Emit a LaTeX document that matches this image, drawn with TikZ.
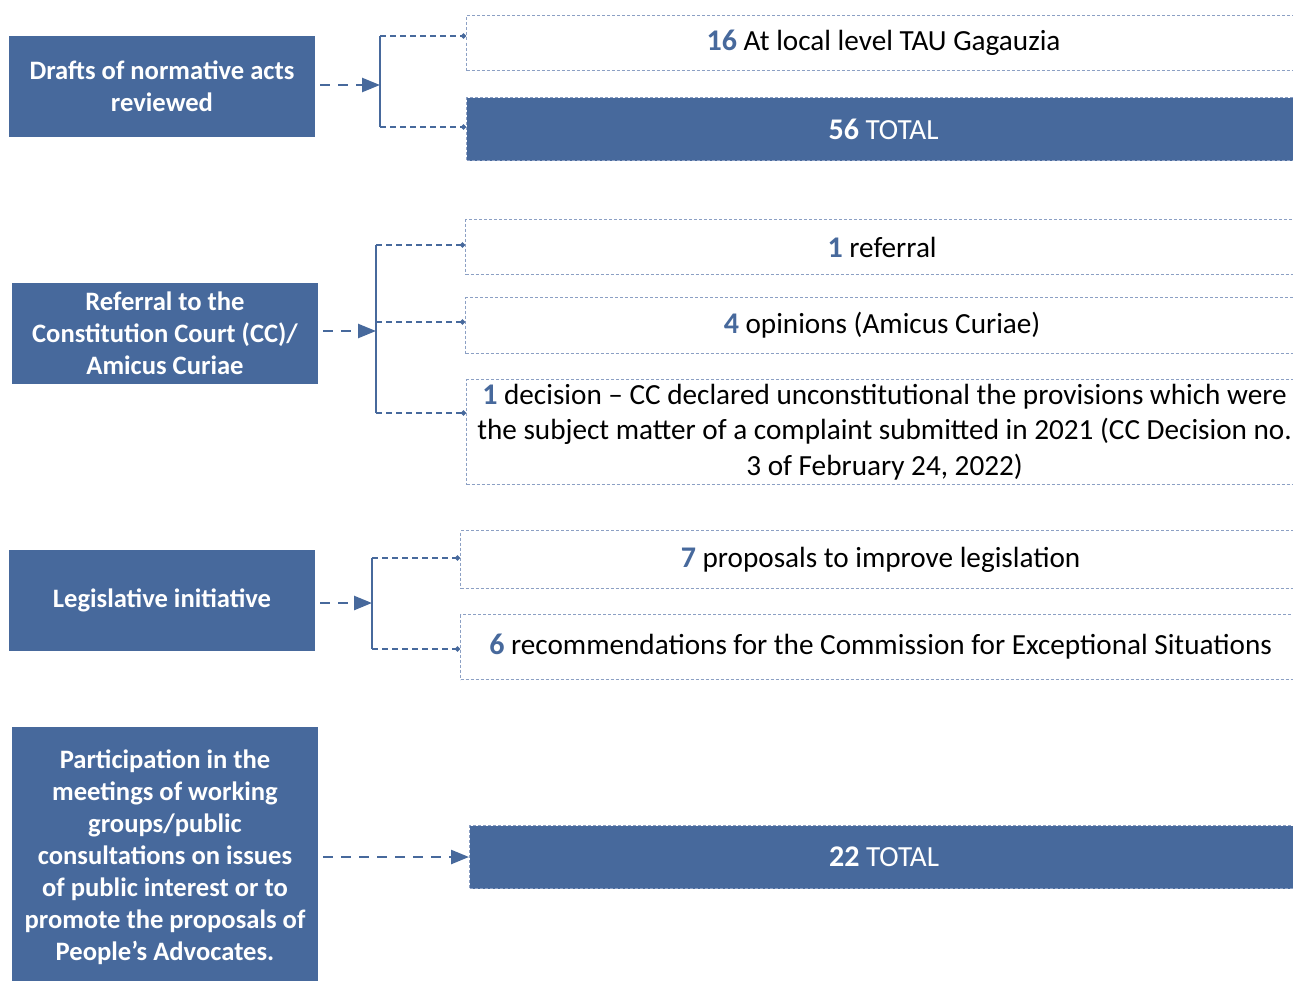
\documentclass[tikz,border=0pt]{standalone}
\usepackage{fontspec}
\setmainfont{Carlito}
\usetikzlibrary{arrows.meta}
\definecolor{boxblue}{RGB}{71,105,156}
\definecolor{dotblue}{RGB}{140,160,196}
\newcommand{\cnt}[1]{{\bfseries\color{boxblue}\fontsize{30}{35.5}\selectfont #1}}
\newcommand{\tot}[1]{{\bfseries\fontsize{30}{35.5}\selectfont #1}}

\begin{document}
\begin{tikzpicture}[
      x=1pt, y=-1pt,
      topic/.style={fill=boxblue, text=white, align=center, inner sep=0pt,
          minimum width=306pt, minimum height=101pt,
          font=\fontsize{26.6}{32}\selectfont\bfseries},
      item/.style={draw=dotblue, line width=1.2pt, dash pattern=on 3pt off 2pt,
          anchor=west, align=center, inner sep=0pt, minimum width=834pt,
          font=\fontsize{29.2}{35.5}\selectfont},
      total/.style={item, fill=boxblue, text=white},
      feed/.style={boxblue, line width=2.5pt, dash pattern=on 10pt off 8pt,
          shorten <=5pt, -{Triangle[length=18pt,width=14pt]}},
      branch/.style={boxblue, line width=1.3pt, dash pattern=on 6pt off 4pt,
          -{Circle[length=5pt]}},
      bracket/.style={boxblue, line width=1.5pt}
    ]

    \clip (0,0) rectangle (1293,980);

    \node[topic] (drafts) at (162,86) {Drafts of normative acts\\reviewed};
    \node[topic] (referral) at (165,333) {Referral to the\\Constitution Court (CC)/\\Amicus Curiae};
    \node[topic] (initiative) at (162,600) {Legislative initiative};
    \node[topic, minimum height=260pt] (meetings) at (165,857) {Participation in the\\meetings of working\\groups/public\\consultations on issues\\of public interest or to\\promote the proposals of\\People’s Advocates.};

    \node[item, minimum height=55pt] (local) at (466,43) {\cnt{16} At local level TAU Gagauzia};
    \node[total, minimum height=63pt] (total1) at (466,129) {\tot{56} TOTAL};

    \node[item, minimum height=55pt, minimum width=833pt] (ref) at (465,247) {\cnt{1} referral};
    \node[item, minimum height=56pt, minimum width=833pt] (opinions) at (465,325.5) {\cnt{4} opinions (Amicus Curiae)};
    \node[item, minimum height=105pt, minimum width=836pt] (decision) at (466,432) {\cnt{1} decision -- CC declared unconstitutional the provisions which were\\the subject matter of a complaint submitted in 2021 (CC Decision no.\\3 of February 24, 2022)};

    \node[item, minimum height=58pt, minimum width=840pt] (proposals) at (460,559.5) {\cnt{7} proposals to improve legislation};
    \node[item, minimum height=65pt, minimum width=840pt] (recomm) at (460,647) {\cnt{6} recommendations for the Commission for Exceptional Situations};

    \node[total, minimum height=63pt, minimum width=829pt] (total2) at (469,857) {\tot{22} TOTAL};

    \coordinate (k1) at (380,85);
    \coordinate (k1t) at (380,36);
    \coordinate (k1b) at (380,127);
    \draw[feed] (drafts.east |- k1) -- (k1);
    \draw[bracket] (k1t) -- (k1b);
    \draw[branch] (k1t) -- (local.west |- k1t);
    \draw[branch] (k1b) -- (total1.west |- k1b);

    \coordinate (k2) at (376,331);
    \coordinate (k2t) at (376,245);
    \coordinate (k2m) at (376,322);
    \coordinate (k2b) at (376,413);
    \draw[feed] (referral.east |- k2) -- (k2);
    \draw[bracket] (k2t) -- (k2b);
    \draw[branch] (k2t) -- (ref.west |- k2t);
    \draw[branch] (k2m) -- (opinions.west |- k2m);
    \draw[branch] (k2b) -- (decision.west |- k2b);

    \coordinate (k3) at (372,603);
    \coordinate (k3t) at (372,558);
    \coordinate (k3b) at (372,649);
    \draw[feed] (initiative.east |- k3) -- (k3);
    \draw[bracket] (k3t) -- (k3b);
    \draw[branch] (k3t) -- (proposals.west |- k3t);
    \draw[branch] (k3b) -- (recomm.west |- k3b);

    \draw[feed] (meetings.east |- total2) -- (total2.west);

  \end{tikzpicture}
\end{document}
